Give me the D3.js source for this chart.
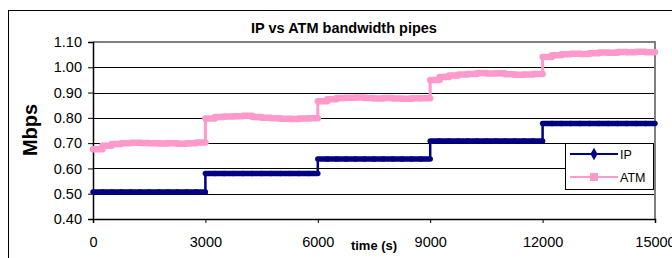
<!DOCTYPE html>
<html><head><meta charset="utf-8">
<script src="https://cdn.jsdelivr.net/npm/d3@7"></script>
<style>body{margin:0;background:#fff}svg{display:block;font-family:Arial,"Liberation Sans",sans-serif}</style>
</head><body><svg id="c" width="672" height="258"></svg>
<script>
// ---- data ----
const times = d3.range(0, 15001, 250); // time (s), one sample every 250 s
const ipValues = [
  0.507,0.507,0.507,0.507,0.507,0.507,0.507,0.507,0.507,0.507,0.507,0.507,
  0.580,0.580,0.580,0.580,0.580,0.580,0.580,0.580,0.580,0.580,0.580,0.580,
  0.637,0.637,0.637,0.637,0.637,0.637,0.637,0.637,0.637,0.637,0.637,0.637,
  0.708,0.708,0.708,0.708,0.708,0.708,0.708,0.708,0.708,0.708,0.708,0.708,
  0.778,0.778,0.778,0.778,0.778,0.778,0.778,0.778,0.778,0.778,0.778,0.778,0.778
];
const atmValues = [
  0.676,0.690,0.697,0.700,0.702,0.701,0.700,0.699,0.700,0.698,0.700,0.703,
  0.797,0.803,0.805,0.806,0.808,0.803,0.800,0.798,0.796,0.795,0.797,0.798,
  0.866,0.874,0.879,0.880,0.881,0.879,0.877,0.879,0.877,0.876,0.878,0.878,
  0.950,0.962,0.968,0.971,0.973,0.977,0.975,0.976,0.972,0.970,0.971,0.973,
  1.041,1.048,1.052,1.054,1.053,1.056,1.058,1.057,1.060,1.059,1.061,1.059,1.058
];
const xTicks = [0, 3000, 6000, 9000, 12000, 15000];
const yTicks = [0.40, 0.50, 0.60, 0.70, 0.80, 0.90, 1.00, 1.10];
const seriesNames = ["IP", "ATM"];
const colors = ["#000080", "#FF99CC"];

// ---- layout ----
const svg = d3.select("#c");
const L = 93, R = 655, T = 42, B = 219;
const x = d3.scaleLinear().domain([0, 15000]).range([L, R]);
const y = d3.scaleLinear().domain([0.4, 1.1]).range([B, T]);

// outer chart border
svg.append("rect").attr("x", 8.5).attr("y", 10.5).attr("width", 700).attr("height", 300)
  .attr("fill", "#fff").attr("stroke", "#000").attr("stroke-width", 1);

// title
svg.append("text").attr("x", 344).attr("y", 33).attr("text-anchor", "middle")
  .attr("font-weight", "bold").attr("font-size", 14.5).text("IP vs ATM bandwidth pipes");

// gridlines
svg.append("g").selectAll("line").data(yTicks.filter(v => v > 0.45 && v < 1.05)).join("line")
  .attr("x1", L).attr("x2", R).attr("y1", d => Math.round(y(d)) + 0.5).attr("y2", d => Math.round(y(d)) + 0.5)
  .attr("stroke", "#000").attr("stroke-width", 1);

// plot border top/right (gray)
svg.append("path").attr("d", `M${L},${T}H${R}V${B}`).attr("fill", "none")
  .attr("stroke", "#808080").attr("stroke-width", 2);

// axes
const yAxis = d3.axisLeft(y).tickValues(yTicks).tickFormat(d3.format(".2f")).tickSizeOuter(0).tickSize(5).tickPadding(6);
const gy = svg.append("g").attr("transform", `translate(${L},0)`).call(yAxis);
const xAxis = d3.axisBottom(x).tickValues(xTicks).tickFormat(d3.format("d")).tickSizeOuter(0).tickSize(4).tickPadding(14);
const gx = svg.append("g").attr("transform", `translate(0,${B})`).call(xAxis);
[gy, gx].forEach(g => {
  g.select(".domain").attr("stroke", "#000").attr("stroke-width", 1.5);
  g.selectAll(".tick line").attr("stroke", "#000");
  g.selectAll(".tick text").attr("font-size", 14.5).attr("fill", "#000").attr("font-family", "Arial,'Liberation Sans',sans-serif");
});

// axis titles
svg.append("text").attr("x", 374).attr("y", 250).attr("text-anchor", "middle")
  .attr("font-weight", "bold").attr("font-size", 13).text("time (s)");
svg.append("text").attr("transform", "translate(37,130) rotate(-90)").attr("text-anchor", "middle")
  .attr("font-weight", "bold").attr("font-size", 20).text("Mbps");

// series: thin connecting step line + thick runs (dense markers in the original)
const line = d3.line().x(d => x(d.t)).y(d => y(d.v)).curve(d3.curveStepAfter);
function drawSeries(vals, color, thin, thick) {
  const data = times.map((t, i) => ({t, v: vals[i]}));
  svg.append("path").datum(data).attr("d", line).attr("fill", "none")
    .attr("stroke", color).attr("stroke-width", thin);
  const segs = data.slice(0, -1).map((d, i) => ({x1: x(d.t), x2: x(data[i + 1].t), yy: y(d.v)}));
  svg.append("g").selectAll("line").data(segs).join("line")
    .attr("x1", d => d.x1).attr("x2", d => d.x2).attr("y1", d => d.yy).attr("y2", d => d.yy)
    .attr("stroke", color).attr("stroke-width", thick).attr("stroke-linecap", "round");
}
drawSeries(atmValues, colors[1], 3, 6.5);
drawSeries(ipValues, colors[0], 2.5, 5.5);

// legend
const lg = svg.append("g");
lg.append("rect").attr("x", 565.5).attr("y", 143.5).attr("width", 88).attr("height", 46)
  .attr("fill", "#fff").attr("stroke", "#000").attr("stroke-width", 1);
seriesNames.forEach((name, i) => {
  const yy = 154 + i * 23;
  lg.append("line").attr("x1", 570).attr("x2", 618).attr("y1", yy).attr("y2", yy)
    .attr("stroke", colors[i]).attr("stroke-width", 2);
  if (i === 0) {
    lg.append("path").attr("d", d3.symbol().type(d3.symbolDiamond).size(45)).attr("transform", `translate(594,${yy})`).attr("fill", colors[i]);
  } else {
    lg.append("rect").attr("x", 590).attr("y", yy - 4).attr("width", 8).attr("height", 8).attr("fill", colors[i]);
  }
  lg.append("text").attr("x", 620).attr("y", yy + 4.5).attr("font-size", 12.5).text(name);
});
</script></body></html>
